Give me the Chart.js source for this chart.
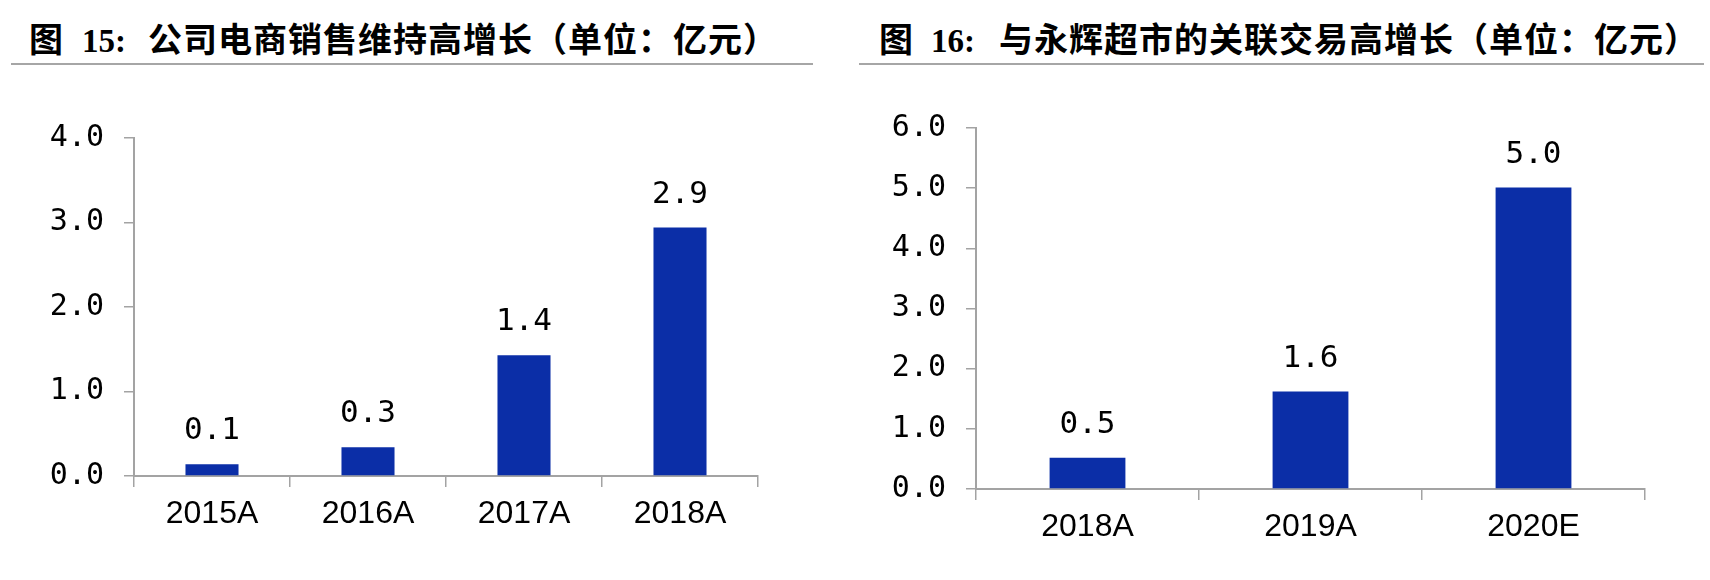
<!DOCTYPE html>
<html>
<head>
<meta charset="utf-8">
<script src="https://cdn.jsdelivr.net/npm/chart.js@4.4.1/dist/chart.umd.min.js"></script>
<style>
  body { margin:0; background:#fff; width:1710px; height:580px; overflow:hidden; position:relative;
         font-family:"Noto Sans CJK SC", sans-serif; }
  .ttl { position:absolute; top:20px; font-size:34px; line-height:36px; font-weight:700;
         letter-spacing:1px; color:#000; white-space:nowrap; }
  .ttl .n { font-family:"Liberation Serif", serif; font-size:33px; letter-spacing:0; }
  .rule { position:absolute; top:63px; height:2px; background:#a6a6a6; }
  .box { position:absolute; }
</style>
</head>
<body>
<div class="ttl" style="left:29px">图<span class="n" style="margin-left:18px">15:</span><span style="margin-left:22px">公司电商销售维持高增长（单位：亿元）</span></div>
<div class="rule" style="left:11px;width:802px"></div>
<div class="box" style="left:0;top:100px;width:790px;height:470px"><canvas id="c1"></canvas></div>

<div class="ttl" style="left:879px">图<span class="n" style="margin-left:17px">16:</span><span style="margin-left:24px">与永辉超市的关联交易高增长（单位：亿元）</span></div>
<div class="rule" style="left:859px;width:845px"></div>
<div class="box" style="left:860px;top:90px;width:830px;height:480px"><canvas id="c2"></canvas></div>

<script>
// ── Data ──────────────────────────────────────────────
const salesYears  = ["2015A", "2016A", "2017A", "2018A"];
const salesValues = [0.14, 0.34, 1.43, 2.94];
const salesMax    = 4;

const tradeYears  = ["2018A", "2019A", "2020E"];
const tradeValues = [0.52, 1.62, 5.01];
const tradeMax    = 6;

const BAR   = "#0b2ea7";
const AXIS  = "#a3a3a3";
const MONO  = '"DejaVu Sans Mono", monospace';

// ── Value labels above bars ───────────────────────────
const barLabels = {
  id: "barLabels",
  afterDatasetsDraw(chart) {
    const ctx  = chart.ctx;
    const meta = chart.getDatasetMeta(0);
    const vals = chart.data.datasets[0].data;
    ctx.save();
    ctx.font = "31px " + MONO;
    ctx.fillStyle = "#000";
    ctx.textAlign = "center";
    ctx.textBaseline = "alphabetic";
    meta.data.forEach((bar, i) => ctx.fillText(vals[i].toFixed(1), bar.x, bar.y - 25));
    ctx.restore();
  }
};

// ── Chart builder ─────────────────────────────────────
function barChart(id, labels, values, max, axisW, axisH, pad) {
  return new Chart(document.getElementById(id), {
    type: "bar",
    data: {
      labels,
      datasets: [{ data: values, backgroundColor: BAR, barPercentage: 0.34, categoryPercentage: 1 }]
    },
    options: {
      responsive: true,
      maintainAspectRatio: false,
      animation: false,
      layout: { padding: pad },
      plugins: { legend: { display: false }, tooltip: { enabled: false } },
      scales: {
        x: {
          grid:   { drawOnChartArea: false, offset: true, tickLength: 11, color: AXIS, lineWidth: 1.5 },
          border: { color: AXIS, width: 2 },
          ticks:  { color: "#000", padding: 8, maxRotation: 0,
                    font: { family: '"Liberation Sans", Arial, sans-serif', size: 32 } },
          afterFit: s => { s.height = axisH; }
        },
        y: {
          min: 0, max,
          grid:   { drawOnChartArea: false, tickLength: 10, color: AXIS, lineWidth: 1.5 },
          border: { color: AXIS, width: 2 },
          ticks:  { stepSize: 1, color: "#000", padding: 20, callback: v => v.toFixed(1),
                    font: { family: MONO, size: 30 } },
          afterFit: s => { s.width = axisW; }
        }
      }
    },
    plugins: [barLabels]
  });
}

barChart("c1", salesYears, salesValues, salesMax, 134, 94, { top: 32, right: 32 });
barChart("c2", tradeYears, tradeValues, tradeMax, 116, 81, { top: 28, right: 45 });
</script>
</body>
</html>
